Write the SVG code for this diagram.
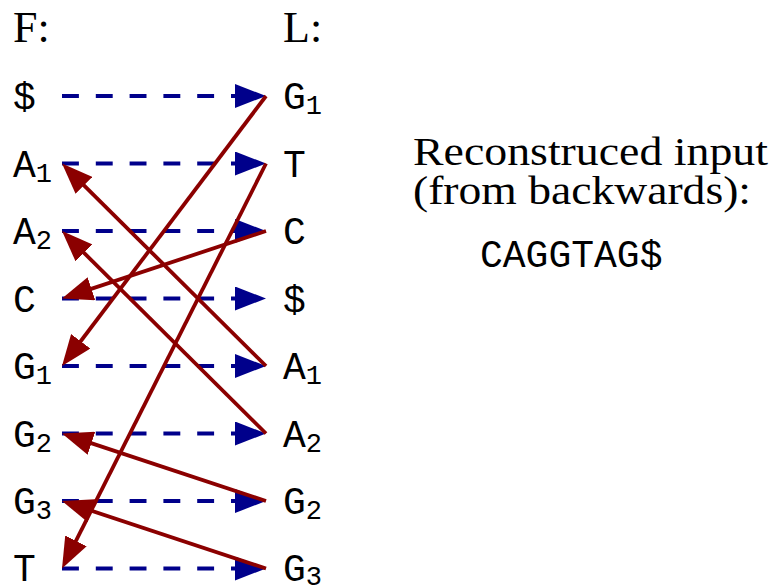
<svg xmlns="http://www.w3.org/2000/svg" width="773" height="587" viewBox="0 0 773 587">
<style>
.serif{font-family:"Liberation Serif","DejaVu Serif",serif;font-size:44px;fill:#000}
.body{font-size:41px}
.mono{font-family:"Liberation Mono","DejaVu Sans Mono",monospace;font-size:38px;fill:#000}
.sub{font-size:27px}
.dash{stroke:#00008B;stroke-width:3.8;stroke-dasharray:16.9 16.9;fill:none}
.red{stroke:#8B0000;stroke-width:3.8;fill:none}
</style>
<defs>
<marker id="hb" viewBox="0 0 31 24" refX="5" refY="12" markerWidth="31" markerHeight="24" markerUnits="userSpaceOnUse" orient="auto">
<path d="M0,0 L31,12 L0,24 Z" fill="#00008B"/>
</marker>
<marker id="hr" viewBox="0 0 31 24" refX="21" refY="12" markerWidth="31" markerHeight="24" markerUnits="userSpaceOnUse" orient="auto">
<path d="M0,0 L31,12 L0,24 Z" fill="#8B0000"/>
</marker>
</defs>
<g id="headers">
<text class="serif" x="13" y="42">F:</text>
<text class="serif" x="283" y="42">L:</text>
</g>
<g id="F-column">
<g id="F0"><text class="mono" x="13" y="109">$</text></g>
<g id="F1"><text class="mono" x="13" y="176.5">A<tspan class="sub" dy="5">1</tspan></text></g>
<g id="F2"><text class="mono" x="13" y="244">A<tspan class="sub" dy="5">2</tspan></text></g>
<g id="F3"><text class="mono" x="13" y="311.5">C</text></g>
<g id="F4"><text class="mono" x="13" y="379">G<tspan class="sub" dy="5">1</tspan></text></g>
<g id="F5"><text class="mono" x="13" y="446.5">G<tspan class="sub" dy="5">2</tspan></text></g>
<g id="F6"><text class="mono" x="13" y="514">G<tspan class="sub" dy="5">3</tspan></text></g>
<g id="F7"><text class="mono" x="13" y="580.5">T</text></g>
</g>
<g id="L-column">
<g id="L0"><text class="mono" x="283" y="109">G<tspan class="sub" dy="5">1</tspan></text></g>
<g id="L1"><text class="mono" x="283" y="176.5">T</text></g>
<g id="L2"><text class="mono" x="283" y="244">C</text></g>
<g id="L3"><text class="mono" x="283" y="311.5">$</text></g>
<g id="L4"><text class="mono" x="283" y="379">A<tspan class="sub" dy="5">1</tspan></text></g>
<g id="L5"><text class="mono" x="283" y="446.5">A<tspan class="sub" dy="5">2</tspan></text></g>
<g id="L6"><text class="mono" x="283" y="514">G<tspan class="sub" dy="5">2</tspan></text></g>
<g id="L7"><text class="mono" x="283" y="580.5">G<tspan class="sub" dy="4">3</tspan></text></g>
</g>
<g id="result">
<text class="serif body" x="413" y="165" textLength="355" lengthAdjust="spacingAndGlyphs">Reconstruced input</text>
<text class="serif body" x="413" y="204" textLength="338" lengthAdjust="spacingAndGlyphs">(from backwards):</text>
<text class="mono" x="480" y="267">CAGGTAG$</text>
</g>
<g id="connectors">
<g id="dashed">
<path class="dash" marker-end="url(#hb)" d="M62,96 H240"/>
<path class="dash" marker-end="url(#hb)" d="M62,163.5 H240"/>
<path class="dash" marker-end="url(#hb)" d="M62,231 H240"/>
<path class="dash" marker-end="url(#hb)" d="M62,298.5 H240"/>
<path class="dash" marker-end="url(#hb)" d="M62,366 H240"/>
<path class="dash" marker-end="url(#hb)" d="M62,433.5 H240"/>
<path class="dash" marker-end="url(#hb)" d="M62,501 H240"/>
<path class="dash" marker-end="url(#hb)" d="M62,568.5 H240"/>
</g>
<g id="lf">
<path class="red" marker-end="url(#hr)" d="M266,96 L68.03,358.02"/>
<path class="red" marker-end="url(#hr)" d="M266,163.5 L66.5,559.57"/>
<path class="red" marker-end="url(#hr)" d="M266,231 L71.49,295.36"/>
<path class="red" marker-end="url(#hr)" d="M266,366 L69.1,170.55"/>
<path class="red" marker-end="url(#hr)" d="M266,433.5 L69.1,238.05"/>
<path class="red" marker-end="url(#hr)" d="M266,501 L71.49,436.64"/>
<path class="red" marker-end="url(#hr)" d="M266,568.5 L71.49,504.14"/>
</g>
</g>
</svg>
